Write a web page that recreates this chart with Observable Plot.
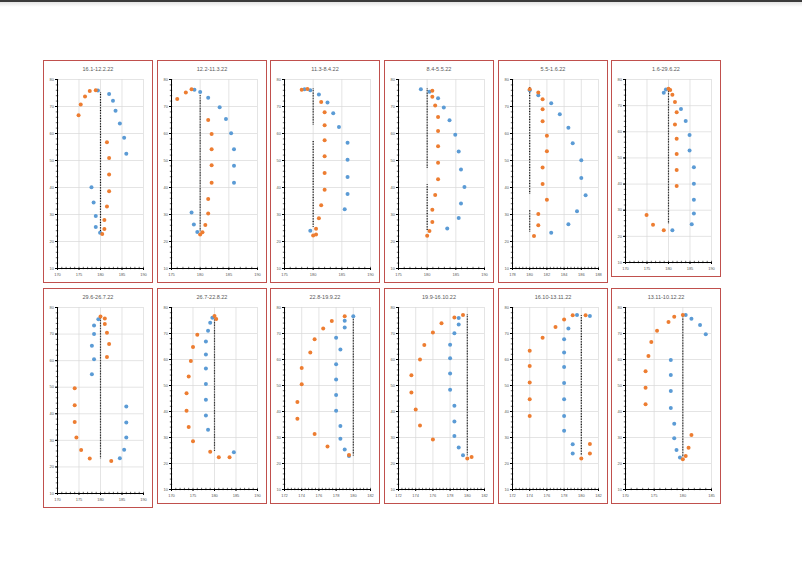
<!DOCTYPE html>
<html><head><meta charset="utf-8">
<script src="https://cdn.jsdelivr.net/npm/d3@7"></script>
<script src="https://cdn.jsdelivr.net/npm/@observablehq/plot@0.6"></script>
<style>
body{margin:0;background:#fff;width:802px;height:565px;overflow:hidden;position:relative;font-family:"Liberation Sans",Arial,sans-serif;}
.topbar{position:absolute;left:0;top:0;width:802px;height:2px;background:#3b3b3b;}
.shadow{position:absolute;left:0;top:2px;width:802px;height:5px;background:linear-gradient(#e4e4e4,#fff);}
.panel{position:absolute;border:1px solid #c0504d;box-sizing:border-box;background:#fff;}
.ptitle{position:absolute;left:0;right:0;top:5px;text-align:center;font-size:5.5px;color:#595959;line-height:6px;}
.panel svg{position:absolute;left:0;top:13px;}
</style></head><body>
<div class="topbar"></div><div class="shadow"></div>
<script>
const titles = ["16.1-12.2.22","12.2-11.3.22","11.3-8.4.22","8.4-5.5.22","5.5-1.6.22","1.6-29.6.22",
  "29.6-26.7.22","26.7-22.8.22","22.8-19.9.22","19.9-16.10.22","16.10-13.11.22","13.11-10.12.22"];
const xTicks = [
  [170,175,180,185,190],[175,180,185,190],[175,180,185,190],[175,180,185,190],[178,180,182,184,186,188],[170,175,180,185,190],
  [170,175,180,185,190],[170,175,180,185,190],[172,174,176,178,180,182],[172,174,176,178,180,182],[172,174,176,178,180,182],[170,175,180,185]
];
const yTicks = [10,20,30,40,50,60,70,80];

const orange1 = [[174.9,66.8],[175.4,70.7],[176.4,73.7],[177.5,75.7],[178.9,76.0],[181.5,56.8],[182.0,50.9],[182.0,44.8],[182.0,38.6],[181.5,33.0],[180.9,28.0],[180.9,24.6],[180.4,22.8]];
const blue1 = [[179.4,75.9],[182.0,74.6],[182.9,72.1],[183.5,68.4],[184.5,63.7],[185.5,58.4],[186.0,52.5],[177.9,40.1],[178.4,34.4],[178.9,29.4],[178.9,25.4],[179.9,23.2]];
const orange2 = [[176.0,72.8],[177.5,75.2],[178.5,76.4],[181.4,65.0],[182.0,59.8],[182.0,54.2],[182.0,48.2],[182.0,41.8],[181.4,35.7],[181.4,30.4],[180.9,26.1],[180.4,23.4],[180.0,22.6]];
const blue2 = [[179.0,76.2],[180.0,75.4],[181.4,73.2],[183.4,69.7],[184.5,65.4],[185.4,60.1],[185.9,54.2],[185.9,48.1],[185.9,41.8],[178.5,30.7],[178.9,26.3],[179.5,23.5]];
const orange3 = [[178.0,76.2],[179.0,76.5],[181.4,71.7],[182.0,67.9],[182.0,63.1],[182.0,57.5],[182.0,51.6],[182.0,45.4],[182.0,39.2],[181.4,33.4],[181.0,28.6],[180.5,24.7],[180.5,22.6],[180.0,22.2]];
const blue3 = [[178.5,76.4],[179.5,76.0],[181.0,74.4],[182.5,71.5],[183.5,67.5],[184.5,62.4],[186.0,56.6],[186.0,50.3],[186.0,43.9],[186.0,37.6],[185.5,31.9],[179.5,24.0]];
const orange4 = [[180.9,75.8],[180.9,73.6],[181.4,70.4],[181.9,66.1],[181.9,60.9],[181.9,55.3],[181.9,49.2],[181.9,43.1],[181.4,37.2],[180.9,31.8],[180.9,27.2],[180.4,23.9],[180.0,22.1]];
const blue4 = [[178.9,76.4],[180.4,75.5],[181.9,73.1],[182.9,69.6],[183.9,64.9],[184.9,59.5],[185.5,53.3],[185.9,46.7],[186.5,40.2],[185.9,34.1],[185.5,28.7],[183.5,24.8]];
const orange5 = [[180.0,76.4],[181.0,75.2],[181.5,72.7],[181.5,69.0],[181.5,64.5],[182.0,59.2],[182.0,53.4],[181.5,47.4],[181.5,41.3],[182.0,35.5],[181.0,30.2],[181.0,26.0],[180.5,22.0]];
const blue5 = [[180.0,76.0],[181.0,74.2],[182.5,71.2],[183.5,67.1],[184.5,62.1],[185.0,56.4],[186.0,50.1],[186.0,43.5],[186.5,37.1],[185.5,31.2],[184.5,26.4],[182.5,23.2]];
const orange6 = [[180.0,76.5],[180.4,76.0],[180.9,74.2],[181.5,71.4],[181.9,67.5],[181.5,62.8],[181.9,57.3],[181.9,51.5],[181.9,45.4],[181.9,39.3],[174.9,28.2],[176.4,24.4],[178.9,22.3]];
const blue6 = [[178.9,74.9],[179.4,76.2],[182.9,68.7],[184.0,64.1],[184.9,58.8],[184.9,52.8],[185.9,46.4],[185.9,40.1],[185.9,34.0],[185.9,28.7],[185.4,24.6],[180.9,22.3]];
const orange7 = [[180.0,76.6],[181.0,75.9],[181.0,73.8],[181.5,70.5],[182.0,66.3],[181.5,61.4],[174.0,49.6],[174.0,43.2],[174.0,36.9],[174.4,31.1],[175.5,26.4],[177.5,23.2],[182.5,22.2]];
const blue7 = [[179.5,75.6],[178.5,73.2],[178.5,70.0],[178.0,65.6],[178.5,60.5],[178.0,54.9],[186.0,42.7],[186.0,36.7],[186.0,31.1],[185.5,26.5],[184.5,23.3]];
const orange8 = [[180.0,76.7],[180.4,75.6],[176.0,69.5],[175.0,64.8],[174.5,59.4],[174.0,53.5],[173.5,47.0],[173.5,40.3],[174.0,34.0],[175.0,28.6],[179.0,24.5],[181.0,22.4],[183.5,22.4]];
const blue8 = [[179.5,76.1],[179.0,74.1],[178.5,71.1],[178.0,66.9],[178.0,61.9],[178.0,56.5],[178.0,50.6],[178.0,44.5],[178.0,38.5],[178.5,33.0],[184.5,24.3]];
const orange9 = [[179.0,76.6],[177.5,74.8],[176.5,71.9],[175.5,67.8],[175.0,62.7],[174.0,56.7],[174.0,50.5],[173.5,43.7],[173.5,37.2],[175.5,31.3],[177.0,26.5],[179.5,23.3]];
const blue9 = [[180.0,76.6],[179.0,74.9],[179.0,72.3],[178.0,68.4],[178.5,63.8],[178.0,58.2],[178.0,52.3],[178.0,46.3],[178.0,40.3],[178.5,34.4],[178.5,29.5],[179.0,25.4],[179.5,22.9]];
const orange10 = [[179.5,77.1],[178.5,76.2],[177.0,73.9],[176.0,70.4],[175.0,65.6],[174.5,60.0],[173.5,53.9],[173.5,47.3],[174.0,40.8],[174.5,34.6],[176.0,29.2],[180.0,21.9],[180.5,22.5]];
const blue10 = [[179.0,76.0],[179.0,73.5],[178.5,70.1],[178.0,65.7],[178.0,60.5],[178.0,54.6],[178.0,48.4],[178.5,42.2],[178.5,36.2],[178.5,30.6],[179.0,26.2],[179.5,23.2]];
const orange11 = [[179.0,77.0],[180.5,77.0],[178.0,75.4],[177.0,72.5],[175.5,68.4],[174.0,63.4],[174.0,57.5],[174.0,51.2],[174.0,44.7],[174.0,38.3],[181.0,27.5],[181.0,23.8],[180.0,21.9]];
const blue11 = [[179.5,77.1],[181.0,76.7],[178.5,71.9],[178.0,67.8],[178.0,62.7],[178.0,57.1],[178.0,51.0],[178.0,44.7],[178.0,38.3],[178.0,32.6],[179.0,27.4],[179.0,23.8]];
const orange12 = [[180.0,77.1],[178.5,76.4],[177.5,74.4],[175.5,71.1],[174.5,66.7],[174.0,61.3],[173.5,55.5],[173.5,49.1],[173.5,42.8],[181.5,31.0],[181.0,26.1],[180.5,22.9],[180.0,21.6]];
const blue12 = [[180.5,77.1],[181.5,75.7],[183.0,73.3],[184.0,69.7],[177.9,59.8],[177.9,54.0],[177.9,47.9],[177.9,41.3],[178.5,35.3],[178.5,29.7],[178.9,25.2],[179.5,22.3]];

// reference line segments: [x, yTop, yBottom]
const ref1 = [[180,75,22.5]];
const ref2 = [[180,74,23.5]];
const ref3 = [[180,76.5,63],[180,57,25]];
const ref4 = [[180,76.5,47],[180,41,24]];
const ref5 = [[180,77,37.6],[180,31.5,23.4]];
const ref6 = [[180,76.5,24.5]];
const ref7 = [[180,76.9,23.1]];
const ref8 = [[180,76.7,24.4]];
const ref9 = [[180,76.6,22.9]];
const ref10 = [[180,77.1,22.9]];
const ref11 = [[180,76.8,23.1]];
const ref12 = [[180,77.1,22.6]];

const blues = [blue1,blue2,blue3,blue4,blue5,blue6,blue7,blue8,blue9,blue10,blue11,blue12];
const oranges = [orange1,orange2,orange3,orange4,orange5,orange6,orange7,orange8,orange9,orange10,orange11,orange12];
const refs = [ref1,ref2,ref3,ref4,ref5,ref6,ref7,ref8,ref9,ref10,ref11,ref12];

const lefts = [43,157,270,384,498,611];
const tops = [60,288];
const heights = [[223,223,223,223,223,217],[220,216,216,216,216,216]];

titles.forEach((t, i) => {
  const row = Math.floor(i / 6), col = i % 6;
  const h = heights[row][col];
  const div = document.createElement("div");
  div.className = "panel";
  div.style.left = lefts[col] + "px";
  div.style.top = tops[row] + "px";
  div.style.width = "110px";
  div.style.height = h + "px";
  const tt = document.createElement("div");
  tt.className = "ptitle";
  tt.textContent = t;
  div.appendChild(tt);
  const xt = xTicks[i];
  const xd = [xt[0], xt[xt.length - 1]];
  const step = xt[1] - xt[0];
  const xMinor = d3.range(xd[0], xd[1] + 1e-9, step / 5);
  const yMinor = d3.range(10, 80.001, 2);
  const plot = Plot.plot({
    width: 108, height: h - 2 - 13,
    marginLeft: 13, marginRight: 9, marginTop: 5, marginBottom: 14,
    x: {domain: xd}, y: {domain: [10, 80]},
    style: {fontSize: "4px", fontFamily: "Liberation Sans, Arial, sans-serif", color: "#595959", background: "transparent", overflow: "visible"},
    marks: [
      Plot.gridX(xt, {stroke: "#d9d9d9", strokeOpacity: 1, strokeWidth: 0.7}),
      Plot.gridY(yTicks, {stroke: "#d9d9d9", strokeOpacity: 1, strokeWidth: 0.7}),
      Plot.ruleX([xd[0]], {stroke: "#000", strokeWidth: 1}),
      Plot.ruleY([10], {stroke: "#000", strokeWidth: 1}),
      Plot.axisY(yMinor, {tickSize: 2.4, dx: 1.2, tickFormat: () => "", stroke: "#000", strokeWidth: 0.6}),
      Plot.axisY(yTicks, {tickSize: 2, tickPadding: 1.5, stroke: "#000", fill: "#595959"}),
      Plot.axisX(xMinor, {tickSize: 2.4, dy: -1.2, tickFormat: () => "", stroke: "#000", strokeWidth: 0.6}),
      Plot.axisX(xt, {tickSize: 2, tickPadding: 3, stroke: "#000", fill: "#595959"}),
      Plot.ruleX(refs[i], {x: d => d[0], y1: d => d[1], y2: d => d[2], stroke: "#000", strokeWidth: 1.2, strokeDasharray: "0.8,0.8"}),
      Plot.dot(blues[i], {x: d => d[0], y: d => d[1], r: 2, fill: "#5b9bd5"}),
      Plot.dot(oranges[i], {x: d => d[0], y: d => d[1], r: 2, fill: "#ed7d31"})
    ]
  });
  div.appendChild(plot);
  document.body.appendChild(div);
});
</script>
</body></html>
